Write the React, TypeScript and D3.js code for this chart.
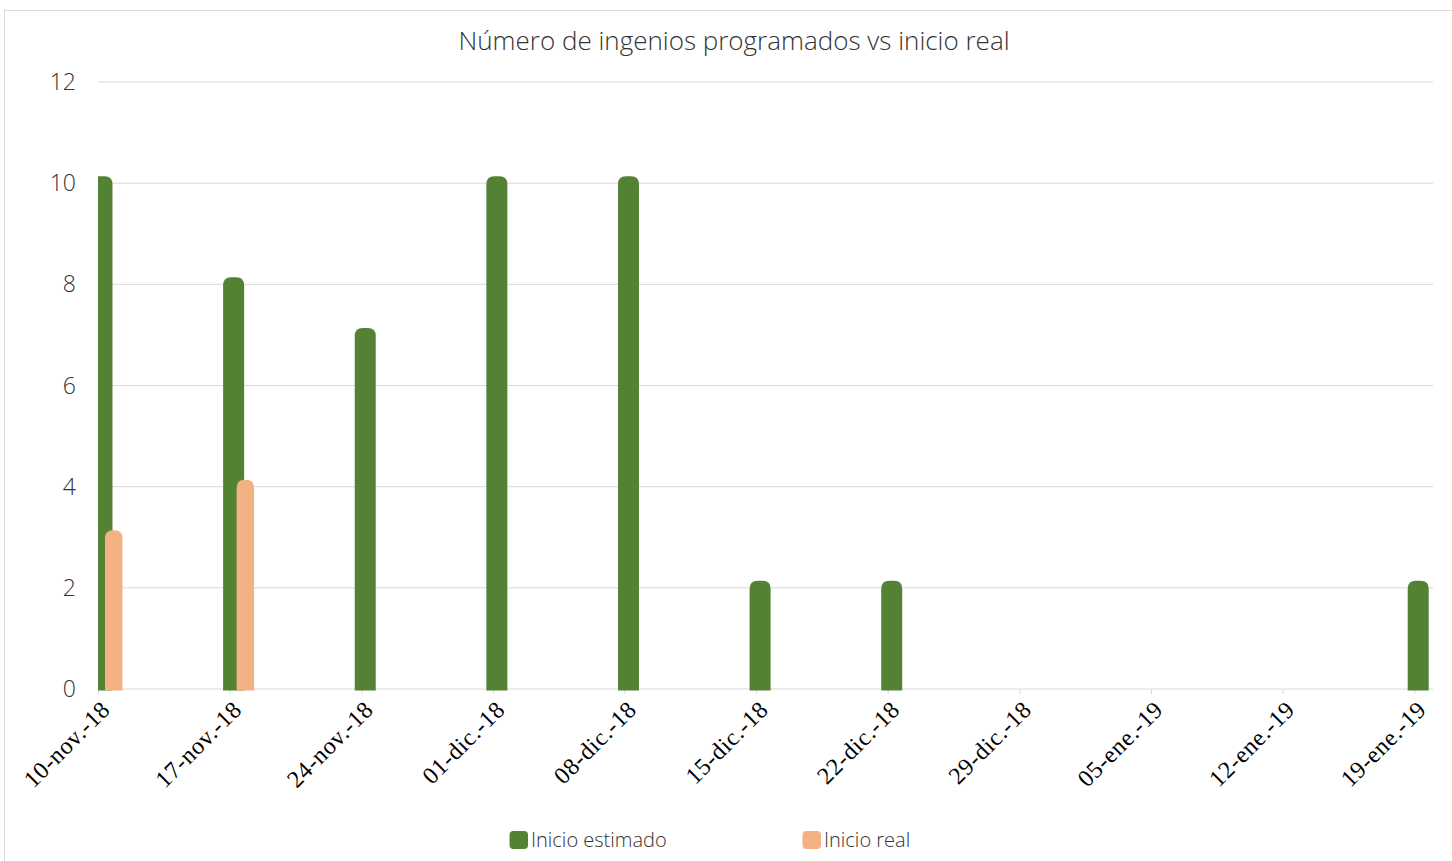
import React from "react";
import * as d3 from "d3";

const weekLabels = [
  "10-nov.-18", "17-nov.-18", "24-nov.-18", "01-dic.-18", "08-dic.-18", "15-dic.-18",
  "22-dic.-18", "29-dic.-18", "05-ene.-19", "12-ene.-19", "19-ene.-19",
];
const weekDates = [
  "2018-11-10", "2018-11-17", "2018-11-24", "2018-12-01", "2018-12-08", "2018-12-15",
  "2018-12-22", "2018-12-29", "2019-01-05", "2019-01-12", "2019-01-19",
];
const estimado = [10, 8, 7, 10, 10, 2, 2, 0, 0, 0, 2];
const real = [3, 4, 0, 0, 0, 0, 0, 0, 0, 0, 0];
const yTicks = [0, 2, 4, 6, 8, 10, 12];

const W = 1452;
const H = 861;
const margin = { top: 82, right: 19, bottom: 172, left: 98 };

const parse = d3.timeParse("%Y-%m-%d");

function topRounded(x0: number, x1: number, top: number, bottom: number, r: number) {
  const rr = Math.min(r, (x1 - x0) / 2, bottom - top);
  return `M${x0},${bottom}V${top + rr}Q${x0},${top} ${x0 + rr},${top}H${x1 - rr}Q${x1},${top} ${x1},${top + rr}V${bottom}Z`;
}

export default function App() {
  const dates = weekDates.map((d) => parse(d) as Date);
  const x = d3
    .scaleTime()
    .domain([dates[0], dates[dates.length - 1]])
    .range([margin.left + 0.5, 1414.7]);
  const y = d3
    .scaleLinear()
    .domain([0, 12])
    .range([H - margin.bottom, margin.top]);
  const plotRight = W - margin.right;
  const base = y(0);

  const series = [
    { name: "Inicio estimado", values: estimado, color: "#548235", off: -7, w: 21 },
    { name: "Inicio real", values: real, color: "#F4B183", off: 6.5, w: 17.5 },
  ];

  const font = "'Open Sans', 'Segoe UI', sans-serif";

  return (
    <svg
      width={W}
      height={H}
      style={{ position: "absolute", left: 0, top: 0, background: "#fff" }}
    >
      <defs>
        <clipPath id="plot">
          <rect x={margin.left} y={0} width={plotRight - margin.left} height={base + 3} />
        </clipPath>
      </defs>
      <rect x={4.5} y={10.5} width={W} height={H} fill="#fff" stroke="#D9D9D9" />
      <text
        x={734}
        y={50}
        textAnchor="middle"
        fontFamily={font}
        fontWeight={300}
        fontSize={26}
        fill="#333"
      >
        Número de ingenios programados vs inicio real
      </text>

      {yTicks.map((t) => (
        <g key={t}>
          <line x1={margin.left} x2={plotRight} y1={y(t)} y2={y(t)} stroke="#D9D9D9" strokeWidth={1} />
          <text
            x={76}
            y={y(t)}
            dy="0.35em"
            textAnchor="end"
            fontFamily={font}
            fontWeight={300}
            fontSize={23}
            fill="#333"
          >
            {t}
          </text>
        </g>
      ))}

      {dates.map((d, i) => (
        <line key={i} x1={x(d)} x2={x(d)} y1={base} y2={base + 5} stroke="#D9D9D9" />
      ))}

      <g clipPath="url(#plot)">
        {series.map((s) =>
          s.values.map((v, i) =>
            v > 0 ? (
              <path
                key={s.name + i}
                d={topRounded(x(dates[i]) + s.off, x(dates[i]) + s.off + s.w, y(v) - 7, base + 1.5, 8)}
                fill={s.color}
              />
            ) : null
          )
        )}
      </g>

      {weekLabels.map((l, i) => (
        <text
          key={l}
          transform={`translate(${x(dates[i]) + 13},${base + 22}) rotate(-45)`}
          textAnchor="end"
          fontFamily="'Liberation Serif', 'Times New Roman', serif"
          fontSize={24}
          letterSpacing={0.6}
          fill="#000"
        >
          {l}
        </text>
      ))}

      {series.map((s, i) => {
        const lx = i === 0 ? 509.5 : 802.5;
        return (
          <g key={s.name}>
            <rect x={lx} y={831} width={18.5} height={18} rx={4} fill={s.color} />
            <text
              x={lx + 21.5}
              y={840}
              dy="0.35em"
              fontFamily={font}
              fontWeight={300}
              fontSize={20}
              fill="#333"
            >
              {s.name}
            </text>
          </g>
        );
      })}
    </svg>
  );
}
